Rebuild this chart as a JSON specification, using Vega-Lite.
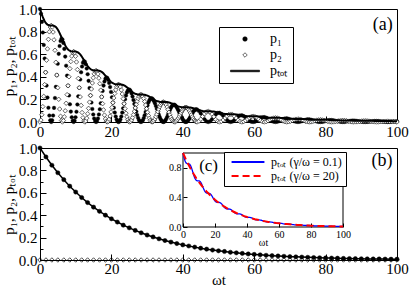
{
"$schema":"https://vega.github.io/schema/vega-lite/v6.json",
"padding":{"left":0,"top":1,"right":0,"bottom":0},
"config":{
 "font":"Liberation Serif",
 "view":{"stroke":"black","strokeWidth":1},
 "axis":{"domain":false,"grid":false,"labelFont":"Liberation Serif","labelColor":"black","tickColor":"black","tickWidth":1,"titleFont":"Liberation Serif","titleFontWeight":"normal","titleColor":"black","labelFlush":false,"labelOverlap":false,"labelBound":false},
 "legend":{"labelFont":"Liberation Serif","labelColor":"black"},
 "text":{"font":"Liberation Serif","color":"black"}
},
"datasets":{
"a":[
{"t":0,"p1":1,"p2":0,"pt":1},
{"t":0.26,"p1":0.958,"p2":0.017,"pt":0.974},
{"t":0.52,"p1":0.886,"p2":0.064,"pt":0.95},
{"t":0.79,"p1":0.792,"p2":0.136,"pt":0.928},
{"t":1.05,"p1":0.682,"p2":0.227,"pt":0.909},
{"t":1.31,"p1":0.562,"p2":0.331,"pt":0.892},
{"t":1.57,"p1":0.44,"p2":0.44,"pt":0.879},
{"t":1.83,"p1":0.322,"p2":0.547,"pt":0.869},
{"t":2.09,"p1":0.216,"p2":0.647,"pt":0.862},
{"t":2.36,"p1":0.126,"p2":0.732,"pt":0.858},
{"t":2.62,"p1":0.057,"p2":0.798,"pt":0.856},
{"t":2.88,"p1":0.015,"p2":0.84,"pt":0.855},
{"t":3.14,"p1":0,"p2":0.855,"pt":0.855},
{"t":3.4,"p1":0.015,"p2":0.84,"pt":0.855},
{"t":3.67,"p1":0.057,"p2":0.796,"pt":0.854},
{"t":3.93,"p1":0.125,"p2":0.727,"pt":0.851},
{"t":4.19,"p1":0.212,"p2":0.635,"pt":0.847},
{"t":4.45,"p1":0.311,"p2":0.529,"pt":0.84},
{"t":4.71,"p1":0.415,"p2":0.415,"pt":0.831},
{"t":4.97,"p1":0.515,"p2":0.303,"pt":0.818},
{"t":5.24,"p1":0.603,"p2":0.201,"pt":0.804},
{"t":5.5,"p1":0.672,"p2":0.115,"pt":0.787},
{"t":5.76,"p1":0.717,"p2":0.051,"pt":0.769},
{"t":6.02,"p1":0.737,"p2":0.013,"pt":0.75},
{"t":6.28,"p1":0.73,"p2":0,"pt":0.73},
{"t":6.55,"p1":0.7,"p2":0.012,"pt":0.712},
{"t":6.81,"p1":0.647,"p2":0.046,"pt":0.694},
{"t":7.07,"p1":0.579,"p2":0.099,"pt":0.678},
{"t":7.33,"p1":0.498,"p2":0.166,"pt":0.664},
{"t":7.59,"p1":0.41,"p2":0.242,"pt":0.652},
{"t":7.85,"p1":0.321,"p2":0.321,"pt":0.642},
{"t":8.12,"p1":0.235,"p2":0.4,"pt":0.635},
{"t":8.38,"p1":0.157,"p2":0.472,"pt":0.63},
{"t":8.64,"p1":0.092,"p2":0.535,"pt":0.627},
{"t":8.9,"p1":0.042,"p2":0.583,"pt":0.625},
{"t":9.16,"p1":0.011,"p2":0.614,"pt":0.624},
{"t":9.42,"p1":0,"p2":0.624,"pt":0.624},
{"t":9.69,"p1":0.011,"p2":0.614,"pt":0.624},
{"t":9.95,"p1":0.042,"p2":0.582,"pt":0.623},
{"t":10.21,"p1":0.091,"p2":0.531,"pt":0.622},
{"t":10.47,"p1":0.155,"p2":0.464,"pt":0.619},
{"t":10.73,"p1":0.227,"p2":0.386,"pt":0.614},
{"t":11,"p1":0.303,"p2":0.303,"pt":0.607},
{"t":11.26,"p1":0.376,"p2":0.222,"pt":0.598},
{"t":11.52,"p1":0.44,"p2":0.147,"pt":0.587},
{"t":11.78,"p1":0.491,"p2":0.084,"pt":0.575},
{"t":12.04,"p1":0.524,"p2":0.038,"pt":0.562},
{"t":12.3,"p1":0.538,"p2":0.009,"pt":0.548},
{"t":12.57,"p1":0.533,"p2":0,"pt":0.533},
{"t":12.83,"p1":0.511,"p2":0.009,"pt":0.52},
{"t":13.09,"p1":0.473,"p2":0.034,"pt":0.507},
{"t":13.35,"p1":0.423,"p2":0.073,"pt":0.495},
{"t":13.61,"p1":0.364,"p2":0.121,"pt":0.485},
{"t":13.88,"p1":0.3,"p2":0.176,"pt":0.476},
{"t":14.14,"p1":0.235,"p2":0.235,"pt":0.469},
{"t":14.4,"p1":0.172,"p2":0.292,"pt":0.464},
{"t":14.66,"p1":0.115,"p2":0.345,"pt":0.46},
{"t":14.92,"p1":0.067,"p2":0.391,"pt":0.458},
{"t":15.18,"p1":0.031,"p2":0.426,"pt":0.456},
{"t":15.45,"p1":0.008,"p2":0.448,"pt":0.456},
{"t":15.71,"p1":0,"p2":0.456,"pt":0.456},
{"t":15.97,"p1":0.008,"p2":0.448,"pt":0.456},
{"t":16.23,"p1":0.031,"p2":0.425,"pt":0.455},
{"t":16.49,"p1":0.067,"p2":0.388,"pt":0.454},
{"t":16.76,"p1":0.113,"p2":0.339,"pt":0.452},
{"t":17.02,"p1":0.166,"p2":0.282,"pt":0.448},
{"t":17.28,"p1":0.222,"p2":0.222,"pt":0.443},
{"t":17.54,"p1":0.275,"p2":0.162,"pt":0.437},
{"t":17.8,"p1":0.322,"p2":0.107,"pt":0.429},
{"t":18.06,"p1":0.358,"p2":0.061,"pt":0.42},
{"t":18.33,"p1":0.383,"p2":0.027,"pt":0.41},
{"t":18.59,"p1":0.393,"p2":0.007,"pt":0.4},
{"t":18.85,"p1":0.39,"p2":0,"pt":0.39},
{"t":19.11,"p1":0.373,"p2":0.006,"pt":0.38},
{"t":19.37,"p1":0.345,"p2":0.025,"pt":0.37},
{"t":19.64,"p1":0.309,"p2":0.053,"pt":0.362},
{"t":19.9,"p1":0.266,"p2":0.089,"pt":0.354},
{"t":20.16,"p1":0.219,"p2":0.129,"pt":0.348},
{"t":20.42,"p1":0.171,"p2":0.171,"pt":0.343},
{"t":20.68,"p1":0.126,"p2":0.213,"pt":0.339},
{"t":20.94,"p1":0.084,"p2":0.252,"pt":0.336},
{"t":21.21,"p1":0.049,"p2":0.285,"pt":0.334},
{"t":21.47,"p1":0.022,"p2":0.311,"pt":0.333},
{"t":21.73,"p1":0.006,"p2":0.327,"pt":0.333},
{"t":21.99,"p1":0,"p2":0.333,"pt":0.333},
{"t":22.25,"p1":0.006,"p2":0.327,"pt":0.333},
{"t":22.51,"p1":0.022,"p2":0.31,"pt":0.333},
{"t":22.78,"p1":0.049,"p2":0.283,"pt":0.332},
{"t":23.04,"p1":0.083,"p2":0.248,"pt":0.33},
{"t":23.3,"p1":0.121,"p2":0.206,"pt":0.327},
{"t":23.56,"p1":0.162,"p2":0.162,"pt":0.324},
{"t":23.82,"p1":0.201,"p2":0.118,"pt":0.319},
{"t":24.09,"p1":0.235,"p2":0.078,"pt":0.313},
{"t":24.35,"p1":0.262,"p2":0.045,"pt":0.307},
{"t":24.61,"p1":0.279,"p2":0.02,"pt":0.3},
{"t":24.87,"p1":0.287,"p2":0.005,"pt":0.292},
{"t":25.13,"p1":0.285,"p2":0,"pt":0.285},
{"t":25.39,"p1":0.273,"p2":0.005,"pt":0.277},
{"t":25.66,"p1":0.252,"p2":0.018,"pt":0.27},
{"t":25.92,"p1":0.225,"p2":0.039,"pt":0.264},
{"t":26.18,"p1":0.194,"p2":0.065,"pt":0.259},
{"t":26.44,"p1":0.16,"p2":0.094,"pt":0.254},
{"t":26.7,"p1":0.125,"p2":0.125,"pt":0.25},
{"t":26.97,"p1":0.092,"p2":0.156,"pt":0.247},
{"t":27.23,"p1":0.061,"p2":0.184,"pt":0.245},
{"t":27.49,"p1":0.036,"p2":0.208,"pt":0.244},
{"t":27.75,"p1":0.016,"p2":0.227,"pt":0.244},
{"t":28.01,"p1":0.004,"p2":0.239,"pt":0.243},
{"t":28.27,"p1":0,"p2":0.243,"pt":0.243},
{"t":28.54,"p1":0.004,"p2":0.239,"pt":0.243},
{"t":28.8,"p1":0.016,"p2":0.227,"pt":0.243},
{"t":29.06,"p1":0.035,"p2":0.207,"pt":0.242},
{"t":29.32,"p1":0.06,"p2":0.181,"pt":0.241},
{"t":29.58,"p1":0.089,"p2":0.15,"pt":0.239},
{"t":29.85,"p1":0.118,"p2":0.118,"pt":0.236},
{"t":30.11,"p1":0.147,"p2":0.086,"pt":0.233},
{"t":30.37,"p1":0.172,"p2":0.057,"pt":0.229},
{"t":30.63,"p1":0.191,"p2":0.033,"pt":0.224},
{"t":30.89,"p1":0.204,"p2":0.015,"pt":0.219},
{"t":31.15,"p1":0.21,"p2":0.004,"pt":0.213},
{"t":31.42,"p1":0.208,"p2":0,"pt":0.208},
{"t":31.68,"p1":0.199,"p2":0.003,"pt":0.203},
{"t":31.94,"p1":0.184,"p2":0.013,"pt":0.198},
{"t":32.2,"p1":0.165,"p2":0.028,"pt":0.193},
{"t":32.46,"p1":0.142,"p2":0.047,"pt":0.189},
{"t":32.72,"p1":0.117,"p2":0.069,"pt":0.186},
{"t":32.99,"p1":0.091,"p2":0.091,"pt":0.183},
{"t":33.25,"p1":0.067,"p2":0.114,"pt":0.181},
{"t":33.51,"p1":0.045,"p2":0.134,"pt":0.179},
{"t":33.77,"p1":0.026,"p2":0.152,"pt":0.178},
{"t":34.03,"p1":0.012,"p2":0.166,"pt":0.178},
{"t":34.3,"p1":0.003,"p2":0.175,"pt":0.178},
{"t":34.56,"p1":0,"p2":0.178,"pt":0.178},
{"t":34.82,"p1":0.003,"p2":0.175,"pt":0.178},
{"t":35.08,"p1":0.012,"p2":0.166,"pt":0.177},
{"t":35.34,"p1":0.026,"p2":0.151,"pt":0.177},
{"t":35.6,"p1":0.044,"p2":0.132,"pt":0.176},
{"t":35.87,"p1":0.065,"p2":0.11,"pt":0.175},
{"t":36.13,"p1":0.086,"p2":0.086,"pt":0.173},
{"t":36.39,"p1":0.107,"p2":0.063,"pt":0.17},
{"t":36.65,"p1":0.125,"p2":0.042,"pt":0.167},
{"t":36.91,"p1":0.14,"p2":0.024,"pt":0.164},
{"t":37.18,"p1":0.149,"p2":0.011,"pt":0.16},
{"t":37.44,"p1":0.153,"p2":0.003,"pt":0.156},
{"t":37.7,"p1":0.152,"p2":0,"pt":0.152},
{"t":37.96,"p1":0.145,"p2":0.003,"pt":0.148},
{"t":38.22,"p1":0.135,"p2":0.01,"pt":0.144},
{"t":38.48,"p1":0.12,"p2":0.021,"pt":0.141},
{"t":38.75,"p1":0.103,"p2":0.034,"pt":0.138},
{"t":39.01,"p1":0.085,"p2":0.05,"pt":0.136},
{"t":39.27,"p1":0.067,"p2":0.067,"pt":0.134},
{"t":39.53,"p1":0.049,"p2":0.083,"pt":0.132},
{"t":39.79,"p1":0.033,"p2":0.098,"pt":0.131},
{"t":40.06,"p1":0.019,"p2":0.111,"pt":0.13},
{"t":40.32,"p1":0.009,"p2":0.121,"pt":0.13},
{"t":40.58,"p1":0.002,"p2":0.128,"pt":0.13},
{"t":40.84,"p1":0,"p2":0.13,"pt":0.13},
{"t":41.1,"p1":0.002,"p2":0.128,"pt":0.13},
{"t":41.36,"p1":0.009,"p2":0.121,"pt":0.13},
{"t":41.63,"p1":0.019,"p2":0.11,"pt":0.129},
{"t":41.89,"p1":0.032,"p2":0.096,"pt":0.129},
{"t":42.15,"p1":0.047,"p2":0.08,"pt":0.128},
{"t":42.41,"p1":0.063,"p2":0.063,"pt":0.126},
{"t":42.67,"p1":0.078,"p2":0.046,"pt":0.124},
{"t":42.94,"p1":0.092,"p2":0.031,"pt":0.122},
{"t":43.2,"p1":0.102,"p2":0.017,"pt":0.119},
{"t":43.46,"p1":0.109,"p2":0.008,"pt":0.117},
{"t":43.72,"p1":0.112,"p2":0.002,"pt":0.114},
{"t":43.98,"p1":0.111,"p2":0,"pt":0.111},
{"t":44.51,"p1":0.098,"p2":0.007,"pt":0.105},
{"t":45.03,"p1":0.076,"p2":0.025,"pt":0.101},
{"t":45.55,"p1":0.049,"p2":0.049,"pt":0.098},
{"t":46.08,"p1":0.024,"p2":0.072,"pt":0.096},
{"t":46.6,"p1":0.006,"p2":0.089,"pt":0.095},
{"t":47.12,"p1":0,"p2":0.095,"pt":0.095},
{"t":47.65,"p1":0.006,"p2":0.088,"pt":0.095},
{"t":48.17,"p1":0.023,"p2":0.07,"pt":0.094},
{"t":48.69,"p1":0.046,"p2":0.046,"pt":0.092},
{"t":49.22,"p1":0.067,"p2":0.022,"pt":0.089},
{"t":49.74,"p1":0.08,"p2":0.006,"pt":0.085},
{"t":50.27,"p1":0.081,"p2":0,"pt":0.081},
{"t":50.79,"p1":0.072,"p2":0.005,"pt":0.077},
{"t":51.31,"p1":0.055,"p2":0.018,"pt":0.074},
{"t":51.84,"p1":0.036,"p2":0.036,"pt":0.071},
{"t":52.36,"p1":0.017,"p2":0.052,"pt":0.07},
{"t":52.88,"p1":0.005,"p2":0.065,"pt":0.069},
{"t":53.41,"p1":0,"p2":0.069,"pt":0.069},
{"t":53.93,"p1":0.005,"p2":0.065,"pt":0.069},
{"t":54.45,"p1":0.017,"p2":0.051,"pt":0.069},
{"t":54.98,"p1":0.034,"p2":0.034,"pt":0.067},
{"t":55.5,"p1":0.049,"p2":0.016,"pt":0.065},
{"t":56.03,"p1":0.058,"p2":0.004,"pt":0.062},
{"t":56.55,"p1":0.059,"p2":0,"pt":0.059},
{"t":57.07,"p1":0.052,"p2":0.004,"pt":0.056},
{"t":57.6,"p1":0.04,"p2":0.013,"pt":0.054},
{"t":58.12,"p1":0.026,"p2":0.026,"pt":0.052},
{"t":58.64,"p1":0.013,"p2":0.038,"pt":0.051},
{"t":59.17,"p1":0.003,"p2":0.047,"pt":0.051},
{"t":59.69,"p1":0,"p2":0.051,"pt":0.051},
{"t":60.21,"p1":0.003,"p2":0.047,"pt":0.051},
{"t":60.74,"p1":0.013,"p2":0.038,"pt":0.05},
{"t":61.26,"p1":0.025,"p2":0.025,"pt":0.049},
{"t":61.78,"p1":0.036,"p2":0.012,"pt":0.048},
{"t":62.31,"p1":0.042,"p2":0.003,"pt":0.045},
{"t":62.83,"p1":0.043,"p2":0,"pt":0.043},
{"t":63.36,"p1":0.038,"p2":0.003,"pt":0.041},
{"t":63.88,"p1":0.029,"p2":0.01,"pt":0.039},
{"t":64.4,"p1":0.019,"p2":0.019,"pt":0.038},
{"t":64.93,"p1":0.009,"p2":0.028,"pt":0.037},
{"t":65.45,"p1":0.002,"p2":0.034,"pt":0.037},
{"t":65.97,"p1":0,"p2":0.037,"pt":0.037},
{"t":66.5,"p1":0.002,"p2":0.034,"pt":0.037},
{"t":67.02,"p1":0.009,"p2":0.027,"pt":0.037},
{"t":67.54,"p1":0.018,"p2":0.018,"pt":0.036},
{"t":68.07,"p1":0.026,"p2":0.009,"pt":0.035},
{"t":68.59,"p1":0.031,"p2":0.002,"pt":0.033},
{"t":69.12,"p1":0.032,"p2":0,"pt":0.032},
{"t":69.64,"p1":0.028,"p2":0.002,"pt":0.03},
{"t":70.16,"p1":0.022,"p2":0.007,"pt":0.029},
{"t":70.69,"p1":0.014,"p2":0.014,"pt":0.028},
{"t":71.21,"p1":0.007,"p2":0.02,"pt":0.027},
{"t":71.73,"p1":0.002,"p2":0.025,"pt":0.027},
{"t":72.26,"p1":0,"p2":0.027,"pt":0.027},
{"t":72.78,"p1":0.002,"p2":0.025,"pt":0.027},
{"t":73.3,"p1":0.007,"p2":0.02,"pt":0.027},
{"t":73.83,"p1":0.013,"p2":0.013,"pt":0.026},
{"t":74.35,"p1":0.019,"p2":0.006,"pt":0.025},
{"t":74.87,"p1":0.023,"p2":0.002,"pt":0.024},
{"t":75.4,"p1":0.023,"p2":0,"pt":0.023},
{"t":75.92,"p1":0.02,"p2":0.001,"pt":0.022},
{"t":76.45,"p1":0.016,"p2":0.005,"pt":0.021},
{"t":76.97,"p1":0.01,"p2":0.01,"pt":0.02},
{"t":77.49,"p1":0.005,"p2":0.015,"pt":0.02},
{"t":78.02,"p1":0.001,"p2":0.018,"pt":0.02},
{"t":78.54,"p1":0,"p2":0.02,"pt":0.02},
{"t":79.06,"p1":0.001,"p2":0.018,"pt":0.02},
{"t":79.59,"p1":0.005,"p2":0.015,"pt":0.02},
{"t":80.11,"p1":0.01,"p2":0.01,"pt":0.019},
{"t":80.63,"p1":0.014,"p2":0.005,"pt":0.019},
{"t":81.16,"p1":0.017,"p2":0.001,"pt":0.018},
{"t":81.68,"p1":0.017,"p2":0,"pt":0.017},
{"t":82.21,"p1":0.015,"p2":0.001,"pt":0.016},
{"t":82.73,"p1":0.011,"p2":0.004,"pt":0.015},
{"t":83.25,"p1":0.007,"p2":0.007,"pt":0.015},
{"t":83.78,"p1":0.004,"p2":0.011,"pt":0.015},
{"t":84.3,"p1":0.001,"p2":0.013,"pt":0.014},
{"t":84.82,"p1":0,"p2":0.014,"pt":0.014},
{"t":85.35,"p1":0.001,"p2":0.013,"pt":0.014},
{"t":85.87,"p1":0.004,"p2":0.011,"pt":0.014},
{"t":86.39,"p1":0.007,"p2":0.007,"pt":0.014},
{"t":86.92,"p1":0.01,"p2":0.003,"pt":0.014},
{"t":87.44,"p1":0.012,"p2":0.001,"pt":0.013},
{"t":87.96,"p1":0.012,"p2":0,"pt":0.012},
{"t":88.49,"p1":0.011,"p2":0.001,"pt":0.012},
{"t":89.01,"p1":0.008,"p2":0.003,"pt":0.011},
{"t":89.54,"p1":0.005,"p2":0.005,"pt":0.011},
{"t":90.06,"p1":0.003,"p2":0.008,"pt":0.011},
{"t":90.58,"p1":0.001,"p2":0.01,"pt":0.011},
{"t":91.11,"p1":0,"p2":0.011,"pt":0.011},
{"t":91.63,"p1":0.001,"p2":0.01,"pt":0.01},
{"t":92.15,"p1":0.003,"p2":0.008,"pt":0.01},
{"t":92.68,"p1":0.005,"p2":0.005,"pt":0.01},
{"t":93.2,"p1":0.007,"p2":0.002,"pt":0.01},
{"t":93.72,"p1":0.009,"p2":0.001,"pt":0.009},
{"t":94.25,"p1":0.009,"p2":0,"pt":0.009},
{"t":94.77,"p1":0.008,"p2":0.001,"pt":0.009},
{"t":95.3,"p1":0.006,"p2":0.002,"pt":0.008},
{"t":95.82,"p1":0.004,"p2":0.004,"pt":0.008},
{"t":96.34,"p1":0.002,"p2":0.006,"pt":0.008},
{"t":96.87,"p1":0.001,"p2":0.007,"pt":0.008},
{"t":97.39,"p1":0,"p2":0.008,"pt":0.008},
{"t":97.91,"p1":0.001,"p2":0.007,"pt":0.008},
{"t":98.44,"p1":0.002,"p2":0.006,"pt":0.008},
{"t":98.96,"p1":0.004,"p2":0.004,"pt":0.007},
{"t":99.48,"p1":0.005,"p2":0.002,"pt":0.007},
{"t":100,"p1":0.006,"p2":0,"pt":0.007}
],
"b":[
{"t":0,"p1":1,"p2":0},{"t":1.67,"p1":0.92,"p2":0},{"t":3.33,"p1":0.846,"p2":0},{"t":5,"p1":0.779,"p2":0},
{"t":6.67,"p1":0.717,"p2":0},{"t":8.33,"p1":0.659,"p2":0},{"t":10,"p1":0.607,"p2":0},{"t":11.67,"p1":0.558,"p2":0},
{"t":13.33,"p1":0.513,"p2":0},{"t":15,"p1":0.472,"p2":0},{"t":16.67,"p1":0.435,"p2":0},{"t":18.33,"p1":0.4,"p2":0},
{"t":20,"p1":0.368,"p2":0},{"t":21.67,"p1":0.339,"p2":0},{"t":23.33,"p1":0.311,"p2":0},{"t":25,"p1":0.287,"p2":0},
{"t":26.67,"p1":0.264,"p2":0},{"t":28.33,"p1":0.243,"p2":0},{"t":30,"p1":0.223,"p2":0},{"t":31.67,"p1":0.206,"p2":0},
{"t":33.33,"p1":0.189,"p2":0},{"t":35,"p1":0.174,"p2":0},{"t":36.67,"p1":0.16,"p2":0},{"t":38.33,"p1":0.147,"p2":0},
{"t":40,"p1":0.135,"p2":0},{"t":41.67,"p1":0.125,"p2":0},{"t":43.33,"p1":0.115,"p2":0},{"t":45,"p1":0.105,"p2":0},
{"t":46.67,"p1":0.097,"p2":0},{"t":48.33,"p1":0.089,"p2":0},{"t":50,"p1":0.082,"p2":0},{"t":51.67,"p1":0.076,"p2":0},
{"t":53.33,"p1":0.069,"p2":0},{"t":55,"p1":0.064,"p2":0},{"t":56.67,"p1":0.059,"p2":0},{"t":58.33,"p1":0.054,"p2":0},
{"t":60,"p1":0.05,"p2":0},{"t":61.67,"p1":0.046,"p2":0},{"t":63.33,"p1":0.042,"p2":0},{"t":65,"p1":0.039,"p2":0},
{"t":66.67,"p1":0.036,"p2":0},{"t":68.33,"p1":0.033,"p2":0},{"t":70,"p1":0.03,"p2":0},{"t":71.67,"p1":0.028,"p2":0},
{"t":73.33,"p1":0.026,"p2":0},{"t":75,"p1":0.024,"p2":0},{"t":76.67,"p1":0.022,"p2":0},{"t":78.33,"p1":0.02,"p2":0},
{"t":80,"p1":0.018,"p2":0},{"t":81.67,"p1":0.017,"p2":0},{"t":83.33,"p1":0.016,"p2":0},{"t":85,"p1":0.014,"p2":0},
{"t":86.67,"p1":0.013,"p2":0},{"t":88.33,"p1":0.012,"p2":0},{"t":90,"p1":0.011,"p2":0},{"t":91.67,"p1":0.01,"p2":0},
{"t":93.33,"p1":0.009,"p2":0},{"t":95,"p1":0.009,"p2":0},{"t":96.67,"p1":0.008,"p2":0},{"t":98.33,"p1":0.007,"p2":0},
{"t":100,"p1":0.007,"p2":0}
]
},
"spacing":26,
"bounds":"flush",
"vconcat":[
{
 "width":357,"height":113,
 "resolve":{"axis":{"y":"independent"}},
 "layer":[
  {"data":{"name":"a"},
   "mark":{"type":"point","stroke":"black","strokeWidth":0.4,"size":13,"opacity":1},
   "encoding":{
    "x":{"field":"t","type":"quantitative","scale":{"domain":[0,100],"nice":false},
      "axis":{"title":null,"values":[0,10,20,30,40,50,60,70,80,90,100],"labelExpr":"datum.value%20==0 ? datum.label : ''","tickSize":{"condition":{"test":"datum.value%20==0","value":-6},"value":-3},"labelPadding":8,"labelFontSize":15}},
    "y":{"field":"p1","type":"quantitative","scale":{"domain":[0,1],"nice":false},
      "axis":{"title":"p₁, p₂, pₜₒₜ","titleFontSize":15,"titlePadding":2,"values":[0,0.2,0.4,0.6,0.8,1],"format":".1f","tickSize":-6,"labelPadding":9,"labelFontSize":15,"labelOverlap":false}},
    "shape":{"datum":"p1","type":"nominal","scale":{"domain":["p1","p2","pt"],"range":["circle","diamond","M-6.5,-0.35H6.5V0.35H-6.5Z"]},
      "legend":{"title":null,"orient":"none","legendX":179,"legendY":18,"strokeColor":"black","fillColor":"white","padding":5,"cornerRadius":0,"labelFontSize":14,"symbolSize":20,"symbolStrokeWidth":0.6,"symbolOffset":14,"rowPadding":2,"labelOffset":18,
        "labelExpr":"datum.value=='p1' ? 'p₁' : datum.value=='p2' ? 'p₂' : 'pₜₒₜ'"}},
    "fill":{"datum":"p1","type":"nominal","scale":{"domain":["p1","p2","pt"],"range":["black","white","black"]}}
   }},
  {"data":{"name":"a"},
   "mark":{"type":"point","stroke":"black","strokeWidth":0.6,"size":20,"opacity":1},
   "encoding":{
    "x":{"field":"t","type":"quantitative"},
    "y":{"field":"p2","type":"quantitative","axis":null},
    "shape":{"datum":"p2","type":"nominal"},
    "fill":{"datum":"p2","type":"nominal"}
   }},
  {"data":{"name":"a"},
   "mark":{"type":"line","color":"black","strokeWidth":2},
   "encoding":{"x":{"field":"t","type":"quantitative"},"y":{"field":"pt","type":"quantitative","axis":{"orient":"left","title":null,"values":[0.1,0.3,0.5,0.7,0.9],"labels":false,"tickSize":-3}}}},
  {"data":{"values":[{}]},
   "mark":{"type":"text","text":"(a)","fontSize":18,"align":"center","baseline":"middle"},
   "encoding":{"x":{"datum":96,"type":"quantitative"},"y":{"datum":0.86,"type":"quantitative","axis":null}}}
 ]
},
{
 "width":357,"height":112,
 "layer":[
  {"resolve":{"axis":{"y":"independent"}},
   "layer":[
    {"data":{"name":"b"},
     "mark":{"type":"line","color":"black","strokeWidth":1.5},
     "encoding":{
      "x":{"field":"t","type":"quantitative","scale":{"domain":[0,100],"nice":false},
        "axis":{"title":"ωt","titleFontSize":15,"titlePadding":-4,"values":[0,10,20,30,40,50,60,70,80,90,100],"labelExpr":"datum.value%20==0 ? datum.label : ''","tickSize":{"condition":{"test":"datum.value%20==0","value":-6},"value":-3},"labelPadding":7,"labelFontSize":15}},
      "y":{"field":"p1","type":"quantitative","scale":{"domain":[0,1],"nice":false},
        "axis":{"title":"p₁, p₂, pₜₒₜ","titleFontSize":15,"titlePadding":2,"values":[0,0.2,0.4,0.6,0.8,1],"format":".1f","tickSize":-6,"labelPadding":9,"labelFontSize":15,"labelOverlap":false}}
     }},
    {"data":{"name":"b"},
     "mark":{"type":"point","shape":"circle","fill":"black","stroke":"black","strokeWidth":0.5,"size":18,"opacity":1},
     "encoding":{"x":{"field":"t","type":"quantitative"},"y":{"field":"p1","type":"quantitative","axis":null}}},
    {"data":{"name":"b"},
     "mark":{"type":"point","shape":"diamond","fill":"white","fillOpacity":0,"stroke":"black","strokeWidth":0.7,"size":20,"opacity":1},
     "encoding":{"x":{"field":"t","type":"quantitative"},"y":{"field":"p2","type":"quantitative","axis":{"orient":"left","title":null,"values":[0.1,0.3,0.5,0.7,0.9],"labels":false,"tickSize":-3}}}},
    {"data":{"values":[{}]},
     "mark":{"type":"text","text":"(b)","fontSize":18,"align":"center","baseline":"middle"},
     "encoding":{"x":{"datum":95.8,"type":"quantitative"},"y":{"datum":0.88,"type":"quantitative","axis":null}}}
  ]},
  {"layer":[
    {"data":{"values":[{}]},
     "mark":{"type":"rect","fill":"white","fillOpacity":0,"stroke":"black","strokeWidth":1},
     "encoding":{
      "x":{"datum":0,"type":"quantitative","scale":{"domain":[0,100],"range":[143,303],"nice":false,"zero":false},
        "axis":{"orient":"bottom","offset":-33,"title":"ωt","titleFontSize":10,"titlePadding":-2,"values":[0,10,20,30,40,50,60,70,80,90,100],"labelExpr":"datum.value%20==0 ? datum.label : ''","tickSize":{"condition":{"test":"datum.value%20==0","value":-4},"value":-2},"labelPadding":6,"labelFontSize":10}},
      "x2":{"datum":100},
      "y":{"datum":0,"type":"quantitative","scale":{"domain":[0,1],"range":[79,5],"nice":false,"zero":false},
        "axis":{"orient":"left","offset":-143,"title":null,"values":[0,0.2,0.4,0.6,0.8,1],"format":".1f","tickSize":-4,"labelPadding":6,"labelFontSize":10,"labelOverlap":false}},
      "y2":{"datum":1}
     }},
    {"data":{"name":"a"},
     "mark":{"type":"line","strokeWidth":1.3},
     "encoding":{
      "x":{"field":"t","type":"quantitative"},
      "y":{"field":"pt","type":"quantitative"},
      "stroke":{"datum":"a","type":"nominal","scale":{"domain":["a","b"],"range":["#0000ff","#ff0000"]},
        "legend":{"title":null,"orient":"none","legendX":184,"legendY":143,"strokeColor":"black","fillColor":"white","padding":4,"cornerRadius":0,"labelFontSize":12,"symbolType":"M-6,0H6","symbolSize":30,"symbolStrokeWidth":2,"symbolOffset":14,"rowPadding":2,"labelOffset":17,
          "labelExpr":"datum.value=='a' ? 'pₜₒₜ (γ/ω = 0.1)' : 'pₜₒₜ (γ/ω = 20)'"}},
      "strokeDash":{"datum":"a","type":"nominal","scale":{"domain":["a","b"],"range":[[1,0],[7,4]]}}
     }},
    {"data":{"name":"b"},
     "mark":{"type":"line","strokeWidth":2},
     "encoding":{
      "x":{"field":"t","type":"quantitative"},
      "y":{"field":"p1","type":"quantitative"},
      "stroke":{"datum":"b","type":"nominal"},
      "strokeDash":{"datum":"b","type":"nominal"}
     }},
    {"data":{"values":[{}]},
     "mark":{"type":"text","text":"(c)","fontSize":17,"align":"center","baseline":"middle"},
     "encoding":{"x":{"datum":16,"type":"quantitative"},"y":{"datum":0.82,"type":"quantitative"}}}
  ]}
 ],
 "resolve":{"scale":{"x":"independent","y":"independent"}}
}
]
}
